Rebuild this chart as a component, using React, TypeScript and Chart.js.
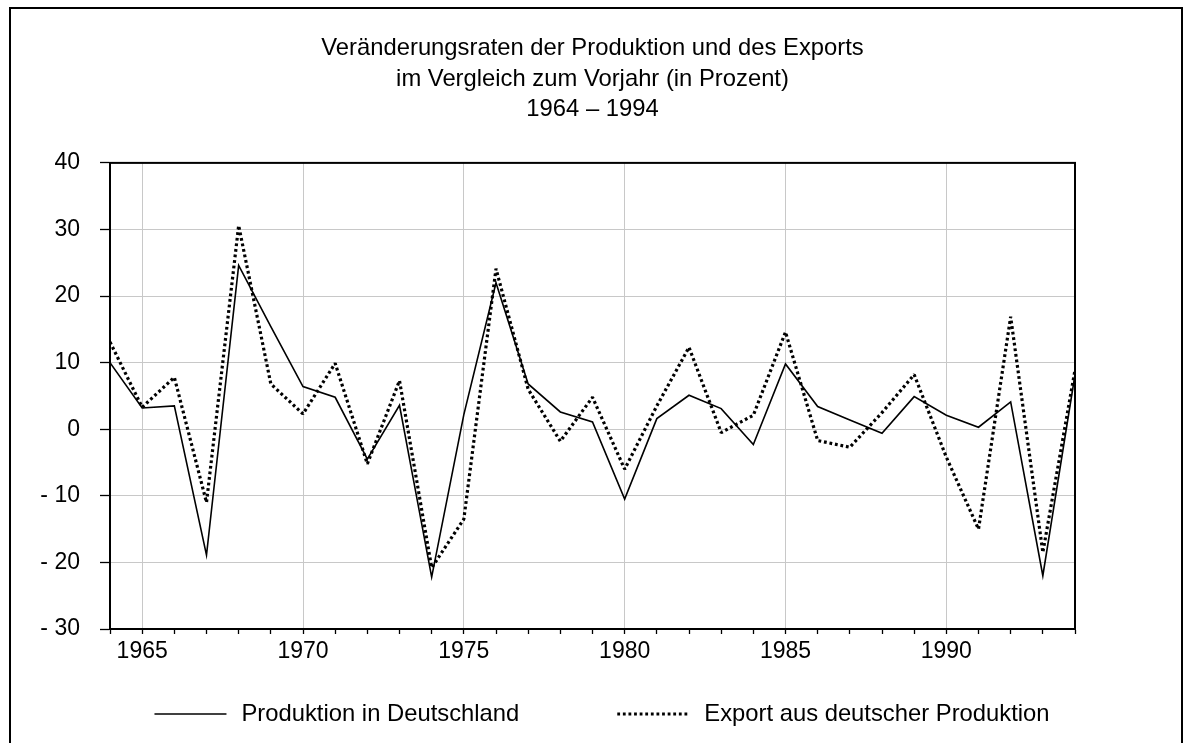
import React, { useEffect, useRef } from "react";
import { Chart, registerables } from "chart.js";

Chart.register(...registerables);

// ---- Data ----
const years = [
  1964, 1965, 1966, 1967, 1968, 1969, 1970, 1971, 1972, 1973, 1974,
  1975, 1976, 1977, 1978, 1979, 1980, 1981, 1982, 1983, 1984,
  1985, 1986, 1987, 1988, 1989, 1990, 1991, 1992, 1993, 1994,
];

const produktion = [
  10.0, 3.2, 3.5, -18.9, 24.6, 15.4, 6.4, 4.8, -4.5, 3.6, -22.2,
  2.2, 22.0, 6.8, 2.6, 1.1, -10.5, 1.6, 5.1, 3.1, -2.3,
  9.8, 3.4, 1.4, -0.6, 4.9, 2.1, 0.3, 4.1, -22.0, 8.2,
];

const exportWerte = [
  13.1, 3.3, 7.8, -11.0, 30.6, 6.8, 2.3, 9.9, -5.2, 7.3, -20.8,
  -13.5, 24.1, 6.0, -1.8, 4.8, -6.0, 3.5, 12.3, -0.5, 2.1,
  14.6, -1.7, -2.7, 2.5, 8.2, -4.2, -15.0, 16.9, -18.5, 8.9,
];

const titleLines = [
  "Veränderungsraten der Produktion und des Exports",
  "im Vergleich zum Vorjahr (in Prozent)",
  "1964 – 1994",
];

const seriesLabels = ["Produktion in Deutschland", "Export aus deutscher Produktion"];

const yMin = -30;
const yMax = 40;
const yStep = 10;
const xLabelEvery = 5;

// ---- Styles ----
const FONT = "'Liberation Sans', Arial, Helvetica, sans-serif";
const GRID = "#c8c8c8";
const W = 1187;
const H = 743;
const TEXT_SIZE = 23.8;

const decorPlugin = {
  id: "decor",
  beforeDraw(chart: any) {
    const ctx = chart.ctx;
    ctx.save();
    ctx.fillStyle = "#fff";
    ctx.fillRect(0, 0, chart.width, chart.height);
    ctx.restore();
  },
  afterDatasetsDraw(chart: any) {
    const { left, top, right, bottom } = chart.chartArea;
    const ctx = chart.ctx;
    ctx.save();
    ctx.strokeStyle = "#000";
    ctx.lineWidth = 2;
    ctx.strokeRect(left, top, right - left, bottom - top);
    ctx.restore();
  },
  afterDraw(chart: any) {
    const ctx = chart.ctx;
    ctx.save();
    // outer frame (bottom edge lies below the visible page)
    ctx.strokeStyle = "#000";
    ctx.lineWidth = 2;
    ctx.strokeRect(10, 8, 1172, 800);

    // legend
    ctx.font = `${TEXT_SIZE}px ${FONT}`;
    const ds = chart.data.datasets;
    const sample = 72;
    const sgap = 15;
    const gap = 98;
    const widths = ds.map((d: any) => ctx.measureText(d.label).width);
    const total =
      ds.length * (sample + sgap) +
      widths.reduce((a: number, b: number) => a + b, 0) +
      gap * (ds.length - 1);
    let x = 602 - total / 2;
    const y = 714;
    ds.forEach((d: any, i: number) => {
      ctx.beginPath();
      ctx.lineWidth = d.borderWidth;
      ctx.lineCap = "butt";
      ctx.setLineDash(d.borderDash || []);
      ctx.strokeStyle = d.borderColor;
      ctx.moveTo(x, y);
      ctx.lineTo(x + sample, y);
      ctx.stroke();
      ctx.setLineDash([]);
      ctx.fillStyle = "#000";
      ctx.textAlign = "left";
      ctx.textBaseline = "middle";
      ctx.fillText(d.label, x + sample + sgap, y);
      x += sample + sgap + widths[i] + gap;
    });
    ctx.restore();
  },
};

export default function App() {
  const canvasRef = useRef<HTMLCanvasElement | null>(null);

  useEffect(() => {
    const canvas = canvasRef.current;
    if (!canvas) return;
    const chart = new Chart(canvas, {
      type: "line",
      data: {
        datasets: [
          {
            label: seriesLabels[0],
            data: years.map((yr, i) => ({ x: yr, y: produktion[i] })),
            borderColor: "#000",
            backgroundColor: "#000",
            borderWidth: 1.6,
            pointRadius: 0,
            fill: false,
            tension: 0,
          },
          {
            label: seriesLabels[1],
            data: years.map((yr, i) => ({ x: yr, y: exportWerte[i] })),
            borderColor: "#000",
            backgroundColor: "#000",
            borderWidth: 3.2,
            borderDash: [2.8, 2.8],
            borderCapStyle: "butt",
            borderJoinStyle: "bevel",
            pointRadius: 0,
            fill: false,
            tension: 0,
          },
        ],
      },
      options: {
        animation: false,
        responsive: false,
        devicePixelRatio: 1,
        layout: { padding: { left: 0, right: 112, top: 8, bottom: 64 } },
        plugins: {
          legend: { display: false },
          tooltip: { enabled: false },
          title: {
            display: true,
            text: titleLines,
            fullSize: false,
            color: "#000",
            font: { family: FONT, size: TEXT_SIZE, weight: "normal", lineHeight: 1.28 },
            padding: { top: 25.5, bottom: 38 },
          },
        },
        scales: {
          x: {
            type: "linear",
            min: years[0],
            max: years[years.length - 1],
            afterFit: (s: any) => {
              s.height = 50;
            },
            grid: {
              color: (c: any) =>
                c.tick && c.tick.value % xLabelEvery === 0 ? GRID : "rgba(0,0,0,0)",
              tickColor: "#000",
              tickLength: 5,
              lineWidth: 1,
              tickWidth: 1.3,
            },
            border: { display: true, color: "#000", width: 2 },
            ticks: {
              stepSize: 1,
              autoSkip: false,
              maxTicksLimit: 1000,
              maxRotation: 0,
              padding: 4,
              color: "#000",
              font: { family: FONT, size: 23 },
              callback: (v: any) => (Number(v) % xLabelEvery === 0 ? String(v) : ""),
            },
          },
          y: {
            type: "linear",
            min: yMin,
            max: yMax,
            afterFit: (s: any) => {
              s.width = 110;
            },
            grid: {
              color: GRID,
              tickColor: "#000",
              tickLength: 10,
              lineWidth: 1,
              tickWidth: 1.3,
            },
            border: { display: true, color: "#000", width: 2 },
            ticks: {
              stepSize: yStep,
              padding: 20,
              color: "#000",
              font: { family: FONT, size: 23 },
              callback: (v: any) => (Number(v) < 0 ? "- " + Math.abs(Number(v)) : String(v)),
            },
          },
        },
      },
      plugins: [decorPlugin],
    } as any);
    return () => chart.destroy();
  }, []);

  return (
    <div
      style={{
        position: "fixed",
        left: 0,
        top: 0,
        width: W,
        height: H,
        background: "#fff",
        overflow: "hidden",
      }}
    >
      <canvas ref={canvasRef} width={W} height={H} style={{ display: "block" }} />
    </div>
  );
}
